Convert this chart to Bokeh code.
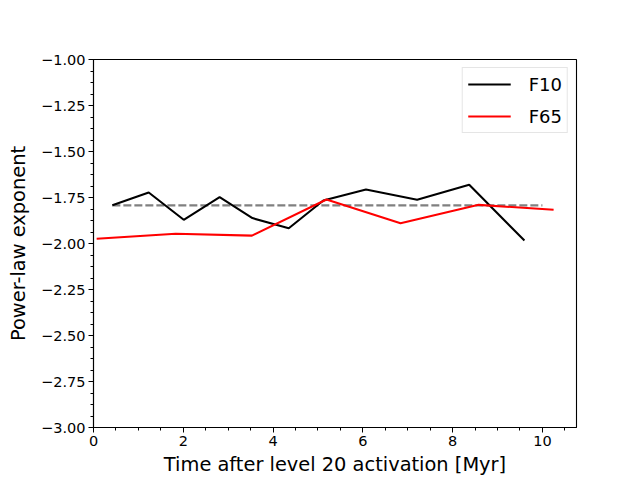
from bokeh.plotting import figure
from bokeh.models import SingleIntervalTicker, CustomJSTickFormatter, Range1d, Legend, LegendItem
from bokeh.embed import file_html
from bokeh.resources import INLINE

# Data
f10_x = [0.42, 1.23, 2.01, 2.81, 3.54, 4.35, 5.12, 6.07, 7.21, 8.37, 9.60]
f10_y = [-1.792, -1.723, -1.871, -1.748, -1.862, -1.917, -1.766, -1.707, -1.762, -1.681, -1.984]
f65_x = [0.07, 1.83, 3.53, 5.19, 6.84, 8.58, 10.25]
f65_y = [-1.974, -1.947, -1.957, -1.761, -1.890, -1.790, -1.817]
ref_x = [0.42, 10.0]
ref_y = [-1.793, -1.793]
series_names = ["F10", "F65"]
x_label = "Time after level 20 activation [Myr]"
y_label = "Power-law exponent"

FONT = "DejaVu Sans"

p = figure(width=640, height=480, output_backend="svg", toolbar_location=None,
           x_range=Range1d(0, 10.76), y_range=Range1d(-3.0, -1.0),
           min_border_left=93, min_border_top=59, min_border_right=64, min_border_bottom=53)

p.background_fill_color = "white"
p.border_fill_color = "white"
p.outline_line_color = "black"
p.outline_line_width = 1.1
p.xgrid.visible = False
p.ygrid.visible = False

p.xaxis.ticker = SingleIntervalTicker(interval=2, num_minor_ticks=4)
p.yaxis.ticker = SingleIntervalTicker(interval=0.25, num_minor_ticks=4)
p.xaxis.formatter = CustomJSTickFormatter(code="return tick.toFixed(0).replace('-', '\u2212');")
p.yaxis.formatter = CustomJSTickFormatter(code="return tick.toFixed(2).replace('-', '\u2212');")

for ax in (p.xaxis[0], p.yaxis[0]):
    ax.axis_line_color = "black"
    ax.axis_line_width = 1.1
    ax.major_tick_line_color = "black"
    ax.minor_tick_line_color = "black"
    ax.major_tick_out = 5
    ax.major_tick_in = 0
    ax.minor_tick_out = 3
    ax.minor_tick_in = 0
    ax.major_label_text_font = FONT
    ax.major_label_text_font_size = "14.5px"
    ax.major_label_text_color = "black"
    ax.axis_label_text_font = FONT
    ax.axis_label_text_font_size = "19.4px"
    ax.axis_label_text_font_style = "normal"
    ax.axis_label_text_color = "black"
    ax.major_label_standoff = 3

p.xaxis.axis_label = x_label
p.yaxis.axis_label = y_label
p.xaxis.axis_label_standoff = 4
p.yaxis.axis_label_standoff = 8

r_ref = p.line(ref_x, ref_y, line_color="grey", line_width=2.08, line_dash="8 3")
r10 = p.line(f10_x, f10_y, line_color="black", line_width=2.08)
r65 = p.line(f65_x, f65_y, line_color="red", line_width=2.08)

legend = Legend(items=[LegendItem(label=series_names[0], renderers=[r10]),
                       LegendItem(label=series_names[1], renderers=[r65])],
                location="top_right")
legend.margin = 8
legend.padding = 5
legend.spacing = 10
legend.glyph_width = 43
legend.glyph_height = 22
legend.label_standoff = 18
legend.label_text_font = FONT
legend.label_text_font_size = "18px"
legend.label_text_color = "black"
legend.border_line_color = "#cccccc"
legend.border_line_width = 1
legend.background_fill_color = "white"
legend.background_fill_alpha = 0.8
p.add_layout(legend)

open("out.html", "w").write(file_html(p, INLINE))
